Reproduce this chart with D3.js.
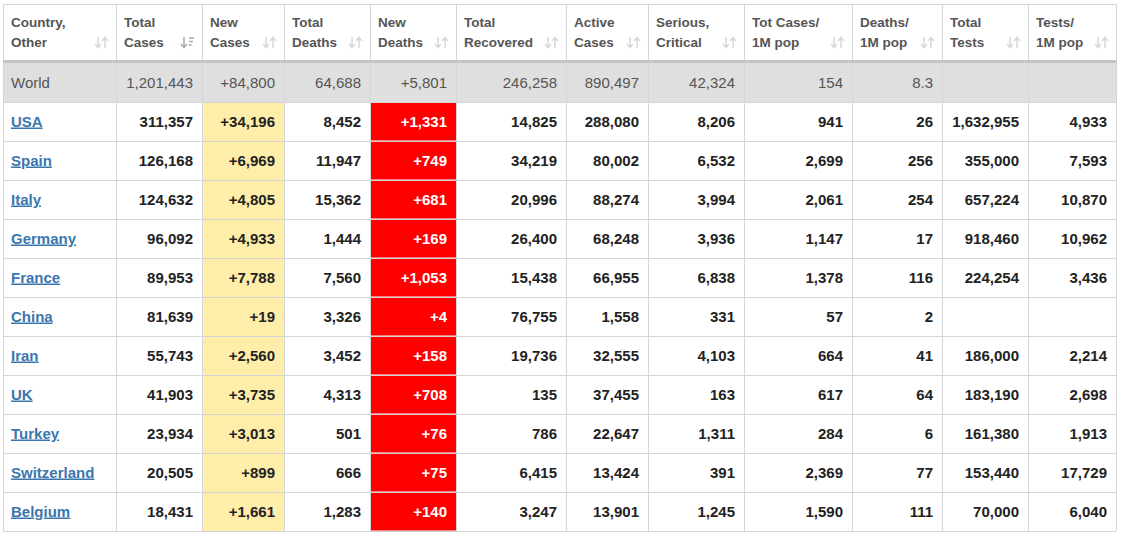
<!DOCTYPE html>
<html>
<head>
<meta charset="utf-8">
<script src="https://cdn.jsdelivr.net/npm/d3@7"></script>
<style>
  body { margin: 0; background: #fff; }
  svg { display: block; }
</style>
</head>
<body>
<div id="chart"></div>
<script>
// header labels (two lines each)
const headers = [
  ["Country,", "Other"], ["Total", "Cases"], ["New", "Cases"], ["Total", "Deaths"],
  ["New", "Deaths"], ["Total", "Recovered"], ["Active", "Cases"], ["Serious,", "Critical"],
  ["Tot Cases/", "1M pop"], ["Deaths/", "1M pop"], ["Total", "Tests"], ["Tests/", "1M pop"]
]
const colWidths = [113, 86, 82, 86, 86, 110, 82, 96, 108, 90, 86, 88]

const countries = ["USA", "Spain", "Italy", "Germany", "France", "China", "Iran", "UK", "Turkey", "Switzerland", "Belgium"]
const totalCases = [311357, 126168, 124632, 96092, 89953, 81639, 55743, 41903, 23934, 20505, 18431]
const newCases = [34196, 6969, 4805, 4933, 7788, 19, 2560, 3735, 3013, 899, 1661]
const totalDeaths = [8452, 11947, 15362, 1444, 7560, 3326, 3452, 4313, 501, 666, 1283]
const newDeaths = [1331, 749, 681, 169, 1053, 4, 158, 708, 76, 75, 140]
const totalRecovered = [14825, 34219, 20996, 26400, 15438, 76755, 19736, 135, 786, 6415, 3247]
const activeCases = [288080, 80002, 88274, 68248, 66955, 1558, 32555, 37455, 22647, 13424, 13901]
const seriousCritical = [8206, 6532, 3994, 3936, 6838, 331, 4103, 163, 1311, 391, 1245]
const casesPer1M = [941, 2699, 2061, 1147, 1378, 57, 664, 617, 284, 2369, 1590]
const deathsPer1M = [26, 256, 254, 17, 116, 2, 41, 64, 6, 77, 111]
const totalTests = [1632955, 355000, 657224, 918460, 224254, null, 186000, 183190, 161380, 153440, 70000]
const testsPer1M = [4933, 7593, 10870, 10962, 3436, null, 2214, 2698, 1913, 17729, 6040]

const worldRow = ["World", 1201443, 84800, 64688, 5801, 246258, 890497, 42324, 154, 8.3, null, null]

const width = 1128, height = 534
const tLeft = 3, tTop = 4, headH = 57, worldH = 39, rowH = 39

const svg = d3.select("#chart").append("svg")
  .attr("width", width)
  .attr("height", height)
  .style("font-family", "'Liberation Sans', Arial, sans-serif")

const edges = [tLeft].concat(Array.from(d3.cumsum(colWidths), d => d + tLeft))
const x = d3.scaleOrdinal().domain(d3.range(headers.length)).range(edges.slice(0, -1))
const w = i => colWidths[i]
const tRight = edges[edges.length - 1]

const worldTop = tTop + headH + 2
const rowsTop = worldTop + worldH
const y = d3.scaleBand().domain(countries).range([rowsTop, rowsTop + rowH * countries.length])

const fmt = d3.format(",")
const fmtPlus = d3.format("+,")

const valueCols = [totalCases, newCases, totalDeaths, newDeaths, totalRecovered, activeCases,
  seriousCritical, casesPer1M, deathsPer1M, totalTests, testsPer1M]

// backgrounds
svg.append("rect").attr("x", tLeft).attr("y", tTop).attr("width", tRight - tLeft).attr("height", headH)
  .attr("fill", "#fff")
svg.append("rect").attr("x", tLeft).attr("y", worldTop).attr("width", tRight - tLeft).attr("height", worldH)
  .attr("fill", "#dfdfdf")

// coloured columns
svg.append("g").selectAll("rect")
  .data(countries)
  .enter().append("rect")
    .attr("x", x(2))
    .attr("y", d => y(d))
    .attr("width", w(2))
    .attr("height", y.bandwidth())
    .attr("fill", "#ffeeaa")
svg.append("g").selectAll("rect")
  .data(countries)
  .enter().append("rect")
    .attr("x", x(4))
    .attr("y", d => y(d) + 0.5)
    .attr("width", w(4))
    .attr("height", y.bandwidth() - 1)
    .attr("fill", "#ff0000")

// grid lines
const grid = svg.append("g").attr("stroke", "#d6d6d6").attr("stroke-width", 1)
grid.selectAll("line.v")
  .data(edges)
  .enter().append("line")
    .attr("x1", d => d + 0.5).attr("x2", d => d + 0.5)
    .attr("y1", tTop).attr("y2", y.range()[1])
grid.selectAll("line.h")
  .data(countries)
  .enter().append("line")
    .attr("x1", tLeft).attr("x2", tRight)
    .attr("y1", d => y(d) + y.bandwidth() + 0.5)
    .attr("y2", d => y(d) + y.bandwidth() + 0.5)
grid.append("line")
  .attr("x1", tLeft).attr("x2", tRight)
  .attr("y1", tTop + 0.5).attr("y2", tTop + 0.5)
grid.append("line")
  .attr("x1", tLeft).attr("x2", tRight)
  .attr("y1", rowsTop + 0.5).attr("y2", rowsTop + 0.5)

// thick header bottom border
svg.append("rect").attr("x", tLeft).attr("y", tTop + headH - 1)
  .attr("width", tRight - tLeft).attr("height", 3).attr("fill", "#c4c4c4")

// header labels
const head = svg.append("g").selectAll("g")
  .data(headers)
  .enter().append("g")
    .attr("transform", (d, i) => "translate(" + x(i) + "," + tTop + ")")
head.append("text")
  .attr("x", 8).attr("y", 23)
  .attr("font-size", 13.5).attr("font-weight", "bold").attr("fill", "#555")
  .text(d => d[0])
head.append("text")
  .attr("x", 8).attr("y", 43)
  .attr("font-size", 13.5).attr("font-weight", "bold").attr("fill", "#555")
  .text(d => d[1])

// sort icons
head.each(function (d, i) {
  const g = d3.select(this).append("g")
    .attr("transform", "translate(" + (w(i) - 21) + ",33)")
    .attr("fill", "none").attr("stroke-width", 1.5)
  const c = i === 1 ? "#aaa" : "#d8d8d8"
  // down arrow
  g.append("path").attr("d", "M3,0 V10 M0,7 L3,10.5 L6,7").attr("stroke", c)
  if (i === 1) {
    g.append("path").attr("d", "M8,1 H13 M8,4.5 H12 M8,8 H10.5").attr("stroke", c)
  } else {
    g.append("path").attr("d", "M10,11 V1 M7,4 L10,0.5 L13,4").attr("stroke", c)
  }
})

// world row
const worldG = svg.append("g")
worldG.selectAll("text")
  .data(worldRow)
  .enter().append("text")
    .attr("x", (d, i) => i === 0 ? x(i) + 8 : x(i) + w(i) - 9)
    .attr("y", worldTop + worldH / 2 + 5.5)
    .attr("text-anchor", (d, i) => i === 0 ? "start" : "end")
    .attr("font-size", 15)
    .attr("fill", "#555")
    .text((d, i) => {
      if (d === null) return ""
      if (i === 0) return d
      return (i === 2 || i === 4) ? fmtPlus(d) : fmt(d)
    })

// country rows
const rows = svg.append("g").selectAll("g")
  .data(countries)
  .enter().append("g")
    .attr("transform", d => "translate(0," + (y(d) + y.bandwidth() / 2 + 5) + ")")

rows.append("text")
  .attr("x", x(0) + 8)
  .attr("font-size", 15)
  .attr("font-weight", "bold")
  .attr("fill", "#3b76ad")
  .style("text-decoration", "underline")
  .text(d => d)

valueCols.forEach((col, k) => {
  const i = k + 1
  rows.append("text")
    .attr("x", x(i) + w(i) - 9)
    .attr("text-anchor", "end")
    .attr("font-size", 15)
    .attr("font-weight", "bold")
    .attr("fill", i === 4 ? "#fff" : "#222")
    .text((d, r) => {
      const v = col[r]
      if (v === null) return ""
      return (i === 2 || i === 4) ? fmtPlus(v) : fmt(v)
    })
})
</script>
</body>
</html>
